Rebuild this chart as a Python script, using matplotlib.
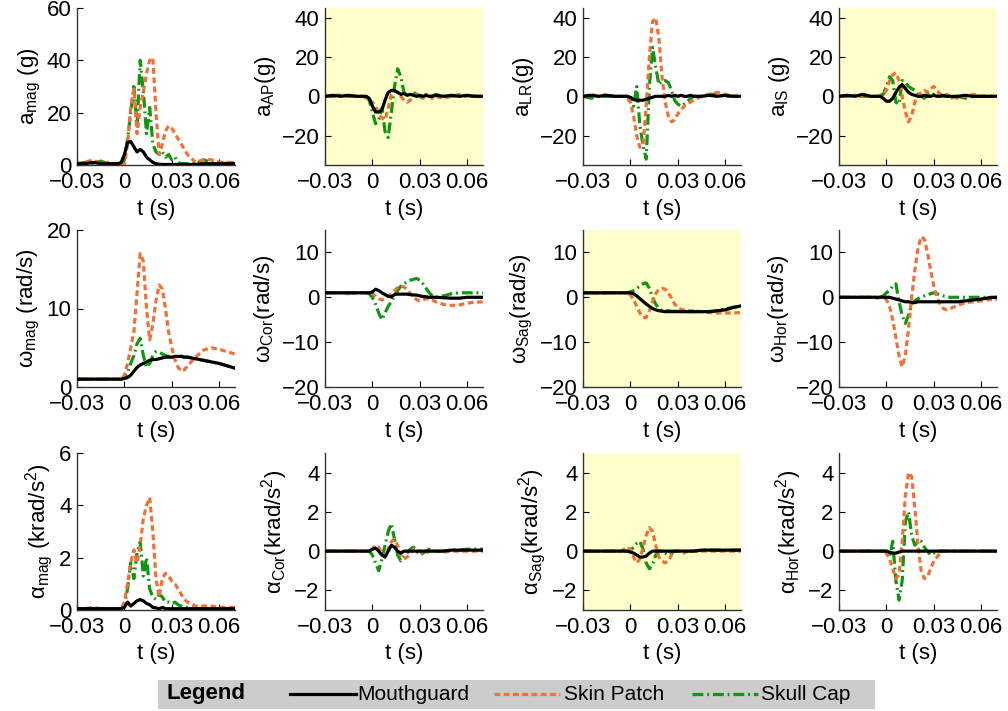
import matplotlib
matplotlib.use('Agg')
import matplotlib.pyplot as plt
from matplotlib.lines import Line2D
from matplotlib.patches import Rectangle
from matplotlib.ticker import FixedLocator, FixedFormatter

plt.rcParams['font.family'] = ['Liberation Sans', 'DejaVu Sans']
plt.rcParams['mathtext.fontset'] = 'custom'
plt.rcParams['mathtext.rm'] = 'Liberation Sans'
plt.rcParams['mathtext.it'] = 'Liberation Sans'
plt.rcParams['mathtext.default'] = 'regular'

# ---------------- data ----------------
T = [-0.03, -0.025, -0.02, -0.015, -0.01, -0.006,
     -0.004, -0.002, 0.0, 0.002, 0.004, 0.006, 0.008, 0.010, 0.012, 0.014,
     0.016, 0.018, 0.020, 0.022, 0.024, 0.026, 0.028, 0.030, 0.032, 0.034,
     0.036, 0.038, 0.040, 0.045, 0.050, 0.055, 0.060, 0.065, 0.070]

# row 1: linear acceleration (g)
a_mag_mg = [0.5, 0.5, 1, 0.5, 0.5, 0.5, 0.5, 1, 4, 8.5, 9, 7, 5, 6, 5, 3, 2, 1, 0.5, 0.3,
            0.2, 0.2, 0.2, 0.2, 0.2, 0.2, 0.2, 0.2, 0.2, 0.2, 0.5, 0.5, 0.5, 0.5, 0.5]
a_mag_sp = [0.5, 1, 2, 0.5, 1, 0.5, 0.5, 0, 0, 8, 22, 29, 12, 22, 28, 35, 40, 41, 20, 4,
            8, 13, 15, 14, 12, 10, 8, 6, 4, 1, 2, 2, 1, 1, 1]
a_mag_sc = [0.5, 1, 0.5, 1.5, 0.5, 0.5, 0.5, 0.5, 2, 10, 20, 30, 15, 40, 28, 12, 22, 8, 5, 4,
            5, 3, 4, 2, 3, 1, 0.5, 0.5, 0.5, 0.5, 2, 1, 1, 0.5, 1]

a_ap_mg = [0, 0.5, 0, 0.5, 0, 0, 0, -1, -5, -8, -8, -7, -2, 2, 3, 3, 2, 1, 1.5, 0.5,
           1, 0.5, 0, 0.5, 0, 0.5, 0, 0, 0.5, 0, 0.5, 0, 0.5, 0, 0]
a_ap_sp = [0, 0, 1, 0, 0, 0, -1, -2, -3, -5, -9, -11, -12, -6, 1, 3, 2, 0, -2, -3,
           -2, 0, 1, 0, -1, 1, 0, -1, 0, -1, 0, 1, 0, 0, 0]
a_ap_sc = [0, 0, 0.5, 0, 0, 0, 0, -2, -8, -14, -12, -6, -18, -21, -8, 5, 14, 10, 2, 0,
           1, 2, 1, 0, -1, 1, 0, 0, 1, 0, 0, 0.5, 0, 0, 0]

a_lr_mg = [0, 0.5, 0, 0.5, 0, 0, 0, 0, -0.5, -1.5, -2, -2, -2, -1.5, -1, -0.5, 0, 0, 0, 0,
           0.5, 0, 0.5, 0, 0.5, 0, 0, 0.5, 0, 0, 0.5, 0, 0.5, 0, 0]
a_lr_sp = [0, 1, 0, 1, 0, 0, 0, -1, -3, -10, -20, -26, -25, -5, 20, 38, 40, 30, 10, -3,
           -10, -13, -12, -9, -7, -5, -4, -3, -2, 0, 1, 2, 1, 0, 1]
a_lr_sc = [0, -1, 0, 0, 0, 0, 0, 0, -2, -5, 5, -15, -25, -32, 5, 25, 15, 6, 8, 8,
           7, 3, -2, -4, -5, -4, -3, -1, 0, 0, 1, 1, 0, 0, 0]

a_is_mg = [0, 0.5, 0, 1, 0, 0, 0, -1, -2.5, -2.5, -1, 2, 4.5, 6, 4, 2, 1, 0.5, 0, 0,
           0.5, 0, 0, 0.5, 0, 0, 0.5, 0, 0, 0, 0.5, 0, 0, 0, 0]
a_is_sp = [0, 0, 0.5, 0, 0, 0, 0, 1, 3, 8, 11, 12, 8, 0, -8, -13, -10, -3, 0, 2,
           3, 2, 4, 5, 3, 1, 0, 1, 0, -1, 0, 1, 0, 0, 0]
a_is_sc = [0, 0, 0.5, 0, 0, 0, 0.5, 1, 5, 10, 8, -3, -4, 8, 7, 5, 4, 3, 1, 0,
           -1, 1, 0, 1, 0, 1, 0, 0, -1, 0, -1, 0, 0, 0, 0]

# row 2: angular velocity (rad/s)
w_mag_mg = [1, 1, 1, 1, 1, 1, 1, 1, 1.1, 1.2, 1.5, 2, 2.5, 2.8, 3, 3.2, 3.4, 3.5, 3.5, 3.6,
            3.7, 3.8, 3.8, 3.8, 3.9, 3.9, 3.9, 3.8, 3.8, 3.6, 3.4, 3.2, 3, 2.7, 2.4]
w_mag_sp = [1, 1, 1, 1, 1, 1, 1, 1, 1.5, 3, 5, 7, 12, 17, 16, 10, 6, 8, 11, 13,
            12.5, 10, 7, 5, 3.5, 2.5, 2, 2.2, 2.7, 3.8, 4.7, 5, 4.8, 4.5, 4.2]
w_mag_sc = [1, 1, 1, 1, 1, 1, 1, 1, 1.2, 1.8, 3, 4, 5.5, 6.2, 4, 2.5, 3, 4, 4.5, 4.5,
            4.2, 4, 3.9, 3.9, 3.9, 3.9, 3.9, 3.8, 3.8, 3.6, 3.4, 3.2, 3, 2.7, 2.4]

w_cor_mg = [1, 1, 1, 1, 1, 1, 1, 1, 1.2, 1.8, 1.5, 1, 0.6, 0.2, 0.1, 0.6, 0.7, 0.7, 0.7, 0.7,
            0.6, 0.5, 0.5, 0.3, 0.2, 0.1, 0, 0, 0, -0.1, -0.2, -0.2, 0, 0, 0]
w_cor_sp = [1, 1, 1, 0.8, 1, 1, 1, 1, 0.8, 0.3, -0.3, -0.6, -0.3, 0.3, 0.8, 1.5, 2.2, 2.5, 2.3, 1.8,
            0.8, 0, -0.5, -0.8, -0.6, -0.3, -0.3, -0.6, -1, -1.6, -1.8, -1.7, -1.3, -1.1, -1]
w_cor_sc = [1, 1, 1, 1, 1, 1, 1, 0.8, 0, -1.5, -3.5, -5, -3.5, -2, -1, 0.5, 1.5, 2.5, 3, 3.5,
            3.8, 4, 4.2, 3.8, 3, 2, 1, 0.3, 0, 0.3, 0.8, 1, 1, 1, 1]

w_sag_mg = [1, 1, 1, 1, 1, 1, 1, 1, 1, 0.8, 0.3, -0.3, -0.9, -1.5, -2, -2.5, -2.8, -3, -3.1, -3.2,
            -3.2, -3.2, -3.2, -3.2, -3.2, -3.2, -3.2, -3.2, -3.2, -3.2, -3.2, -3, -2.8, -2.3, -1.9]
w_sag_sp = [1, 1, 0.8, 1, 1, 1, 1, 1, 0.5, -0.5, -2, -3.5, -4.5, -4.5, -3, -1, 0.8, 1.8, 2, 1.8,
            1, -0.2, -1.5, -2.3, -2.7, -2.8, -3, -3, -3, -3.2, -3.4, -3.5, -3.5, -3.5, -3.4]
w_sag_sc = [1, 1, 1, 1, 1, 1, 1, 1, 1.2, 1.5, 2, 2.5, 3, 3.2, 2, 0, -1.5, -2.5, -3, -3,
            -3, -3.1, -3.1, -3.1, -3.2, -3.2, -3.2, -3.2, -3.2, -3.2, -3.2, -3, -2.6, -2.2, -2]

w_hor_mg = [0, 0, 0, 0, 0, 0, 0, 0, 0, 0, -0.2, -0.4, -0.6, -0.8, -1, -1, -1.1, -1.2, -1, -1,
            -1, -1, -1, -1, -1, -1, -1, -1, -1, -1, -0.8, -0.6, -0.4, -0.1, 0]
w_hor_sp = [0, 0, 0, 0, 0, -0.2, 0, 0, -0.5, -2, -5, -9, -13, -15.5, -13, -7, 0, 6, 11, 13.5,
            13, 10, 6, 2.5, 0, -1.5, -2.5, -2.8, -2.6, -1.8, -1.2, -1, -0.8, -0.5, -0.5]
w_hor_sc = [0, 0, 0, 0, 0, 0, 0, 0.3, 1, 1.5, 2.5, 3, -1, -4, -5.8, -4, -1.5, -0.8, -0.3, 0,
            0.3, 0.5, 0.8, 1, 0.8, 0.5, 0.3, 0.2, 0, 0, 0, 0, 0, 0, 0]

# row 3: angular acceleration (krad/s^2)
al_mag_mg = [0.05, 0.05, 0.05, 0.05, 0.05, 0.05, 0.05, 0.05, 0.1, 0.3, 0.15, 0.25, 0.35, 0.4, 0.35, 0.25,
             0.2, 0.1, 0.08, 0.05, 0.1, 0.05, 0.05, 0.05, 0.05, 0.05, 0.05, 0.05, 0.05, 0.05, 0.05,
             0.05, 0.05, 0.05, 0.05]
al_mag_sp = [0.05, 0.05, 0.1, 0.05, 0.05, 0.05, 0.05, 0.05, 0.3, 1, 1.8, 2.3, 1.8, 2.5, 3.5, 4.0,
             4.3, 3, 1.2, 0.5, 1.2, 1.4, 1.3, 1.1, 1, 0.8, 0.6, 0.4, 0.3, 0.15, 0.15,
             0.15, 0.1, 0.1, 0.1]
al_mag_sc = [0.05, 0.05, 0.05, 0.05, 0.05, 0.05, 0.05, 0.05, 0.2, 0.8, 1.8, 1.2, 2.2, 2.6, 1.3, 2.0,
             0.8, 0.5, 0.4, 0.6, 0.5, 0.3, 0.3, 0.25, 0.3, 0.2, 0.15, 0.1, 0.1, 0.05, 0.05,
             0.05, 0.05, 0.05, 0.05]

al_cor_mg = [0, 0, 0, 0, 0, 0, 0, 0, 0.1, 0.15, 0, -0.2, -0.3, 0, 0.3, 0.2, 0, -0.1, 0, 0,
             0, 0, 0, 0, 0, 0, 0, 0, 0, 0, 0.05, 0.05, 0.05, 0.05, 0.05]
al_cor_sp = [0, 0, 0, 0, 0, 0, 0, 0, 0.1, 0.3, 0.2, -0.1, -0.3, 0.1, 0.5, 0.6, 0.3, -0.2, -0.4, -0.3,
             -0.1, 0.1, 0.1, 0, -0.1, -0.1, 0, 0.05, 0, -0.05, 0, 0, 0, 0, 0]
al_cor_sc = [0, 0, 0, 0, 0, 0, 0, 0, -0.2, -0.6, -1.0, -0.4, 0.3, 1.0, 1.4, 0.6, -0.2, -0.5, -0.3, -0.1,
             0.1, 0.2, 0, -0.2, -0.1, 0, 0.1, 0, 0, 0, 0.05, 0.05, 0.1, 0.1, 0.1]

al_sag_mg = [0, 0, 0, 0, 0, 0, 0, 0, -0.05, -0.1, -0.2, -0.3, -0.3, -0.25, -0.1, 0, 0, 0, 0, 0,
             0, 0, 0, 0, 0, 0, 0, 0, 0, 0.05, 0.05, 0.05, 0.05, 0.05, 0.05]
al_sag_sp = [0, 0, 0, 0, 0, 0, 0.1, 0.2, 0.1, -0.3, -0.6, -0.4, 0.2, 0.8, 1.2, 1.0, 0.3, -0.3, -0.5, -0.6,
             -0.5, -0.2, 0, 0, 0, -0.1, 0, 0, 0, 0, 0, 0, 0, 0, 0]
al_sag_sc = [0, 0, 0, 0, 0, 0, 0, 0, 0.05, 0.2, 0.4, 0.5, 0.1, -0.6, -0.9, -0.7, -0.2, 0, 0, -0.1,
             -0.2, -0.1, 0, 0, 0, 0, 0, 0, 0, 0.05, 0.05, 0.05, 0.05, 0.05, 0.05]

al_hor_mg = [0, 0, 0, 0, 0, 0, 0, 0, 0, -0.05, -0.1, -0.1, -0.05, 0, 0, 0, 0, 0, 0, 0,
             0, 0, 0, 0, 0, 0, 0, 0, 0, 0, 0, 0, 0, 0, 0]
al_hor_sp = [0, 0, 0, 0, 0, 0, 0, 0, -0.1, -0.4, -0.9, -1.4, -1.2, 0.5, 2.8, 4.0, 3.8, 2.2, 0.3, -1.0,
             -1.4, -1.3, -0.9, -0.5, -0.3, -0.1, 0, 0, 0, 0, 0, 0, 0, 0, 0]
al_hor_sc = [0, 0, 0, 0, 0, 0, 0, 0, 0, -0.3, 0.5, -1.5, -2.5, -1.5, 1.5, 2.0, 0.8, 0.3, 0.5, 0.5,
             0.2, 0, -0.2, -0.1, 0, 0, 0, 0, 0, 0, 0, 0, 0, 0, 0]

XTICKS = [-0.03, 0, 0.03, 0.06]
XTICKLABELS = ['\u22120.03', '0', '0.03', '0.06']

panels = [
    # row 1
    dict(mg=a_mag_mg, sp=a_mag_sp, sc=a_mag_sc, ylabel='a$_{mag}$ (g)', ylim=(0, 60), yticks=[0, 20, 40, 60], bg=False),
    dict(mg=a_ap_mg, sp=a_ap_sp, sc=a_ap_sc, ylabel='a$_{AP}$(g)', ylim=(-35, 45), yticks=[-20, 0, 20, 40], bg=True),
    dict(mg=a_lr_mg, sp=a_lr_sp, sc=a_lr_sc, ylabel='a$_{LR}$(g)', ylim=(-35, 45), yticks=[-20, 0, 20, 40], bg=False),
    dict(mg=a_is_mg, sp=a_is_sp, sc=a_is_sc, ylabel='a$_{IS}$ (g)', ylim=(-35, 45), yticks=[-20, 0, 20, 40], bg=True),
    # row 2
    dict(mg=w_mag_mg, sp=w_mag_sp, sc=w_mag_sc, ylabel='\u03c9$_{mag}$ (rad/s)', ylim=(0, 20), yticks=[0, 10, 20], bg=False),
    dict(mg=w_cor_mg, sp=w_cor_sp, sc=w_cor_sc, ylabel='\u03c9$_{Cor}$(rad/s)', ylim=(-20, 15), yticks=[-20, -10, 0, 10], bg=False),
    dict(mg=w_sag_mg, sp=w_sag_sp, sc=w_sag_sc, ylabel='\u03c9$_{Sag}$(rad/s)', ylim=(-20, 15), yticks=[-20, -10, 0, 10], bg=True),
    dict(mg=w_hor_mg, sp=w_hor_sp, sc=w_hor_sc, ylabel='\u03c9$_{Hor}$(rad/s)', ylim=(-20, 15), yticks=[-20, -10, 0, 10], bg=False),
    # row 3
    dict(mg=al_mag_mg, sp=al_mag_sp, sc=al_mag_sc, ylabel='\u03b1$_{mag}$ (krad/s$^2$)', ylim=(0, 6), yticks=[0, 2, 4, 6], bg=False),
    dict(mg=al_cor_mg, sp=al_cor_sp, sc=al_cor_sc, ylabel='\u03b1$_{Cor}$(krad/s$^2$)', ylim=(-3, 5), yticks=[-2, 0, 2, 4], bg=False),
    dict(mg=al_sag_mg, sp=al_sag_sp, sc=al_sag_sc, ylabel='\u03b1$_{Sag}$(krad/s$^2$)', ylim=(-3, 5), yticks=[-2, 0, 2, 4], bg=True),
    dict(mg=al_hor_mg, sp=al_hor_sp, sc=al_hor_sc, ylabel='\u03b1$_{Hor}$(krad/s$^2$)', ylim=(-3, 5), yticks=[-2, 0, 2, 4], bg=False),
]

# ---------------- styles ----------------
C_MG = '#000000'
C_SP = '#F0703A'
C_SC = '#129612'
LW = 2.3
DASH_SP = (1.8, 1.1)
DASH_SC = (3.4, 1.2, 0.6, 1.2)
YELLOW = '#FFFFCC'
FS = 16
FS_LEG = 15

W, H = 1008, 711
fig = plt.figure(figsize=(W / 100, H / 100), dpi=100)
col_left = [77, 325, 583, 839]
row_top = [8, 230, 453]
ax_w, ax_h = 158, 157

for i, p in enumerate(panels):
    r, c = divmod(i, 4)
    ax = fig.add_axes([col_left[c] / W, (H - row_top[r] - ax_h) / H, ax_w / W, ax_h / H])
    if p['bg']:
        ax.set_facecolor(YELLOW)
    ax.plot(T, p['sc'], color=C_SC, lw=LW, dashes=DASH_SC, zorder=2)
    ax.plot(T, p['sp'], color=C_SP, lw=LW, dashes=DASH_SP, zorder=3)
    ax.plot(T, p['mg'], color=C_MG, lw=LW, zorder=4)
    ax.set_xlim(-0.03, 0.07)
    ax.set_ylim(*p['ylim'])
    ax.xaxis.set_major_locator(FixedLocator(XTICKS))
    ax.xaxis.set_major_formatter(FixedFormatter(XTICKLABELS))
    ax.set_yticks(p['yticks'])
    ax.set_yticklabels([str(v).replace('-', '\u2212') for v in p['yticks']])
    for s in ['top', 'right']:
        ax.spines[s].set_visible(False)
    for s in ['left', 'bottom']:
        ax.spines[s].set_color('#333333')
        ax.spines[s].set_linewidth(1.0)
    ax.tick_params(direction='in', length=4, width=0.8, labelsize=FS, colors='#000000')
    ax.tick_params(axis='x', pad=5)
    ax.tick_params(axis='y', pad=4)
    ax.set_xlabel('t (s)', fontsize=FS, labelpad=4)
    ax.set_ylabel(p['ylabel'], fontsize=FS, labelpad=3)

# ---------------- legend bar ----------------
def fx(x):
    return x / W

def fy(y):
    return (H - y) / H

fig.patches.append(Rectangle((fx(158), fy(709)), fx(875) - fx(158), fy(680) - fy(709),
                             transform=fig.transFigure, facecolor='#CCCCCC', edgecolor='none', zorder=0))
ymid = fy(694)
fig.text(fx(166), ymid, 'Legend', fontsize=FS_LEG + 1, fontweight='bold', va='center', ha='left')
fig.add_artist(Line2D([fx(290), fx(356)], [ymid, ymid], color=C_MG, lw=LW, transform=fig.transFigure))
fig.text(fx(357), ymid, 'Mouthguard', fontsize=FS_LEG, va='center', ha='left')
fig.add_artist(Line2D([fx(494), fx(560)], [ymid, ymid], color=C_SP, lw=LW, dashes=DASH_SP, transform=fig.transFigure))
fig.text(fx(564), ymid, 'Skin Patch', fontsize=FS_LEG, va='center', ha='left')
fig.add_artist(Line2D([fx(692), fx(758)], [ymid, ymid], color=C_SC, lw=LW, dashes=DASH_SC, transform=fig.transFigure))
fig.text(fx(761), ymid, 'Skull Cap', fontsize=FS_LEG, va='center', ha='left')

fig.savefig('out.png', dpi=100)
